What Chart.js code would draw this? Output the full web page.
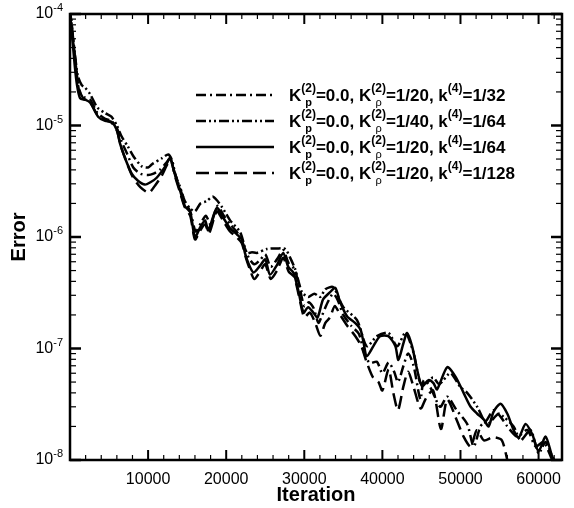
<!DOCTYPE html>
<html>
<head>
<meta charset="utf-8">
<script src="https://cdn.jsdelivr.net/npm/chart.js@4.4.0/dist/chart.umd.min.js"></script>
<style>
  html, body { margin: 0; padding: 0; background: #fff; }
</style>
</head>
<body>
<canvas id="myChart" width="574" height="508"></canvas>
<script>
"use strict";

// iteration / error pairs
const dashDotPts = [[0,1.2e-4],[400,6e-5],[800,3.2e-5],[1200,2.0e-5],[1800,1.8e-5],[2600,1.7e-5],[3500,1.3e-5],[4500,1.15e-5],[5300,1.1e-5],[6000,9.5e-6],[6600,7.2e-6],[7300,5.6e-6],[8100,4.2e-6],[9000,3.7e-6],[10000,3.6e-6],[10700,3.7e-6],[11500,4.0e-6],[12300,4.6e-6],[12800,5.0e-6],[13400,3.8e-6],[14100,2.7e-6],[14800,2.0e-6],[15400,1.7e-6],[16100,1.12e-6],[16800,1.35e-6],[17400,1.55e-6],[18000,1.3e-6],[18900,1.9e-6],[19700,1.55e-6],[20500,1.3e-6],[21400,1.1e-6],[22300,8.2e-7],[22900,6.5e-7],[23600,5.7e-7],[24400,6.3e-7],[25000,7.0e-7],[25700,5.4e-7],[26500,6.3e-7],[27300,7.6e-7],[28000,5.8e-7],[28700,5.2e-7],[29300,3.8e-7],[30000,2.4e-7],[30600,2.6e-7],[31200,2.3e-7],[31800,1.7e-7],[32300,2.0e-7],[33000,2.6e-7],[33700,3.1e-7],[34300,2.7e-7],[35000,2.0e-7],[36000,1.6e-7],[37000,1.35e-7],[37700,9e-8],[38400,7.4e-8],[39300,7.6e-8],[40000,6.0e-8],[40800,7.5e-8],[41500,6.2e-8],[42000,5.0e-8],[42700,7.0e-8],[43300,9.0e-8],[44000,7.0e-8],[44870,3.5e-8],[45300,5.2e-8],[46200,4.4e-8],[47400,3.0e-8],[48300,3.7e-8],[49500,2.8e-8],[50860,2.1e-8],[51700,1.32e-8],[52560,2.0e-8],[53400,2.3e-8],[54230,2.8e-8],[55130,2.45e-8],[56000,2.0e-8],[57270,1.62e-8],[58550,1.86e-8],[59620,1.32e-8],[60640,1.45e-8],[61750,1.0e-8],[62300,8.5e-9]];

const dashDotDotPts = [[0,1.1e-4],[300,7e-5],[600,4.5e-5],[1000,2.8e-5],[1500,2.3e-5],[1900,2.2e-5],[2600,1.9e-5],[3500,1.45e-5],[4500,1.29e-5],[5300,1.2e-5],[6000,1.0e-5],[6600,8e-6],[7400,6.5e-6],[8200,5.2e-6],[9200,4.3e-6],[10000,4.2e-6],[10500,4.5e-6],[11800,5.1e-6],[12600,5.5e-6],[13100,4.8e-6],[13500,3.6e-6],[14100,2.8e-6],[14700,2.1e-6],[15400,1.8e-6],[16000,1.7e-6],[16700,2.0e-6],[17500,2.1e-6],[18300,2.3e-6],[19450,1.86e-6],[20500,1.41e-6],[21800,1.1e-6],[22650,7.2e-7],[23300,7.3e-7],[23930,7.2e-7],[25200,7.8e-7],[26500,7.9e-7],[27560,7.8e-7],[28200,6.5e-7],[28850,5.1e-7],[29700,3.2e-7],[30500,2.9e-7],[31300,3.1e-7],[32050,2.9e-7],[32700,3.4e-7],[33700,3.55e-7],[35000,2.35e-7],[36750,1.8e-7],[38000,1.05e-7],[39300,1.29e-7],[40770,1.38e-7],[41900,1.05e-7],[42950,1.38e-7],[44000,9.1e-8],[44870,4.9e-8],[45800,5.0e-8],[46500,5.5e-8],[47300,4.8e-8],[48700,6.0e-8],[50000,4.5e-8],[50860,4.0e-8],[52140,3.0e-8],[53400,2.1e-8],[54870,2.6e-8],[55500,2.45e-8],[56800,2.0e-8],[57700,1.5e-8],[58970,1.86e-8],[60000,1.15e-8],[60900,1.45e-8],[61900,1.0e-8],[62400,8.5e-9]];

const solidPts = [[0,9e-5],[300,6e-5],[600,3.5e-5],[900,2.3e-5],[1300,1.75e-5],[2000,1.7e-5],[2600,1.6e-5],[3600,1.2e-5],[4500,1.1e-5],[5300,1.08e-5],[6000,9.1e-6],[6400,6.9e-6],[7000,5.2e-6],[7900,3.7e-6],[8700,3.2e-6],[9600,2.95e-6],[10300,3.1e-6],[11100,3.4e-6],[12200,4.3e-6],[12800,5.1e-6],[13400,3.7e-6],[14100,2.6e-6],[14700,1.9e-6],[15400,1.66e-6],[16000,1.0e-6],[16700,1.23e-6],[17300,1.41e-6],[17700,1.15e-6],[18800,1.82e-6],[19650,1.48e-6],[20500,1.2e-6],[21400,1.05e-6],[22000,9.5e-7],[22400,7.2e-7],[22800,5.9e-7],[23500,4.8e-7],[24400,5.6e-7],[25000,6.3e-7],[25600,4.6e-7],[26500,5.6e-7],[27300,7.2e-7],[27950,5.4e-7],[28600,4.8e-7],[29200,3.4e-7],[29900,2.1e-7],[30500,2.35e-7],[31150,2.1e-7],[31700,1.9e-7],[32400,2.75e-7],[33300,3.2e-7],[33970,3.5e-7],[34600,2.6e-7],[35470,1.95e-7],[36500,1.7e-7],[37200,1.48e-7],[37600,1.12e-7],[38000,8.5e-8],[38850,1.05e-7],[39700,1.29e-7],[40770,1.29e-7],[41660,1.05e-7],[42050,7.9e-8],[42700,1.12e-7],[43160,1.38e-7],[43800,1.05e-7],[44440,6.5e-8],[45080,4.6e-8],[45900,5.2e-8],[46540,4.9e-8],[47000,4.3e-8],[48300,6.8e-8],[49360,5.6e-8],[50400,4.0e-8],[51300,3.0e-8],[52140,2.6e-8],[53000,2.3e-8],[53600,2.0e-8],[54230,2.7e-8],[55130,3.2e-8],[56000,2.6e-8],[56800,1.86e-8],[57440,1.58e-8],[58330,2.1e-8],[59190,1.7e-8],[60000,1.2e-8],[60900,1.62e-8],[61750,1.07e-8],[62200,9.5e-9],[62600,8e-9]];

const dashedPts = [[0,1.0e-4],[350,6e-5],[700,3.8e-5],[1100,2.2e-5],[1700,1.75e-5],[2500,1.65e-5],[3500,1.25e-5],[4500,1.12e-5],[5300,1.06e-5],[6000,9e-6],[6500,6.6e-6],[7100,5.0e-6],[8000,3.5e-6],[9000,2.8e-6],[10100,2.5e-6],[10900,2.9e-6],[11700,3.5e-6],[12400,4.4e-6],[12900,5.0e-6],[13400,3.6e-6],[14100,2.5e-6],[14700,1.85e-6],[15400,1.55e-6],[16000,9.5e-7],[16600,1.12e-6],[17300,1.3e-6],[17800,1.08e-6],[18800,1.7e-6],[19600,1.4e-6],[20500,1.12e-6],[21300,1.0e-6],[22000,8.8e-7],[22500,6.6e-7],[23000,5.2e-7],[23600,4.2e-7],[24400,5.0e-7],[25000,5.7e-7],[25700,4.2e-7],[26500,5.0e-7],[27300,6.5e-7],[28000,4.9e-7],[28700,4.4e-7],[29300,3.0e-7],[30000,1.9e-7],[30700,2.1e-7],[31400,1.7e-7],[32050,1.3e-7],[32700,1.7e-7],[33300,1.9e-7],[33900,2.4e-7],[34600,2.0e-7],[35500,1.6e-7],[36500,1.3e-7],[37300,1.05e-7],[38000,7.5e-8],[38800,5.5e-8],[39500,5.0e-8],[40000,4.2e-8],[40800,6.5e-8],[41400,4.0e-8],[42000,2.8e-8],[42700,4.6e-8],[43300,6.2e-8],[44000,4.5e-8],[44900,2.9e-8],[45600,3.6e-8],[46500,4.2e-8],[47500,1.9e-8],[48300,3.5e-8],[49500,2.3e-8],[50400,1.62e-8],[51300,1.32e-8],[52100,1.85e-8],[53000,1.5e-8],[54200,1.6e-8],[55300,1.5e-8],[56000,1.0e-8],[56300,8.5e-9]];

// legend coefficients, one per series
const kRho = ['1/20', '1/40', '1/20', '1/20'];
const k4 = ['1/32', '1/64', '1/64', '1/128'];
const kP = '0.0';

const xTicks = [10000, 20000, 30000, 40000, 50000, 60000];
const yExps = [-8, -7, -6, -5, -4];

const FONT = '"Liberation Sans", Arial, sans-serif';
const dashes = [[10, 4, 2, 4], [10, 3, 2, 3, 2, 3], [], [13, 6]];
const series = [dashDotPts, dashDotDotPts, solidPts, dashedPts];

function toXY(pts) {
  return pts.map(p => ({ x: p[0], y: p[1] }));
}

const datasets = series.map((pts, i) => ({
  label: 'K(2)p=' + kP + ', K(2)rho=' + kRho[i] + ', k(4)=' + k4[i],
  data: toXY(pts),
  borderColor: '#000',
  borderWidth: 2.5,
  borderDash: dashes[i],
  pointRadius: 0,
  tension: 0.25,
  fill: false
}));

function line(ctx, x1, y1, x2, y2) {
  ctx.beginPath();
  ctx.moveTo(x1, y1);
  ctx.lineTo(x2, y2);
  ctx.stroke();
}

function drawRich(ctx, x, y, parts) {
  let cx = x;
  let supX = 0, supW = 0;
  parts.forEach(p => {
    const t = p[0], kind = p[1];
    if (kind === 'n') {
      ctx.font = 'bold 17px ' + FONT;
      ctx.fillText(t, cx, y);
      cx += ctx.measureText(t).width;
    } else if (kind === 'sup') {
      ctx.font = 'bold 12px ' + FONT;
      ctx.fillText(t, cx, y - 9);
      supX = cx;
      supW = ctx.measureText(t).width;
      cx += supW;
    } else {
      ctx.font = (kind === 'subb' ? 'bold ' : '') + '11px ' + FONT;
      const w = ctx.measureText(t).width;
      ctx.fillText(t, supX + (supW - w) / 2, y + 5);
    }
  });
  return cx;
}

const framePlugin = {
  id: 'frame',
  afterDraw(chart) {
    const ctx = chart.ctx;
    const a = chart.chartArea;
    const xs = chart.scales.x;
    const ys = chart.scales.y;
    ctx.save();
    ctx.strokeStyle = '#000';
    ctx.fillStyle = '#000';

    // x ticks, inward on top and bottom
    for (let v = 0; v <= xs.max; v += 2000) {
      const px = xs.getPixelForValue(v);
      const major = v % 10000 === 0;
      ctx.lineWidth = major ? 2 : 1.2;
      const len = major ? 10 : 5;
      line(ctx, px, a.bottom, px, a.bottom - len);
      line(ctx, px, a.top, px, a.top + len);
    }
    // y ticks, inward on left and right
    for (let e = -8; e <= -4; e++) {
      for (let m = 1; m <= 9; m++) {
        const v = m * Math.pow(10, e);
        if (v > ys.max * 1.0001) break;
        const py = ys.getPixelForValue(v);
        const major = m === 1;
        ctx.lineWidth = major ? 2.5 : 1.2;
        const len = major ? 11 : 6;
        line(ctx, a.left, py, a.left + len, py);
        line(ctx, a.right, py, a.right - len, py);
      }
    }
    // frame
    ctx.lineWidth = 2.5;
    ctx.strokeRect(a.left, a.top, a.right - a.left, a.bottom - a.top);

    // y tick labels 10^n
    ctx.textBaseline = 'middle';
    ctx.textAlign = 'left';
    yExps.forEach(e => {
      const py = ys.getPixelForValue(Math.pow(10, e));
      const ex = String(e);
      ctx.font = '16px ' + FONT;
      const bw = ctx.measureText('10').width;
      ctx.font = '11px ' + FONT;
      const ew = ctx.measureText(ex).width;
      const x0 = a.left - 7 - bw - ew;
      ctx.font = '16px ' + FONT;
      ctx.fillText('10', x0, py);
      ctx.font = '11px ' + FONT;
      ctx.fillText(ex, x0 + bw, py - 6);
    });

    // axis titles
    ctx.font = 'bold 20px ' + FONT;
    ctx.textAlign = 'center';
    ctx.textBaseline = 'alphabetic';
    ctx.fillText('Iteration', (a.left + a.right) / 2, 501);
    ctx.save();
    ctx.translate(25, (a.top + a.bottom) / 2);
    ctx.rotate(-Math.PI / 2);
    ctx.fillText('Error', 0, 0);
    ctx.restore();

    // legend
    ctx.textAlign = 'left';
    ctx.textBaseline = 'alphabetic';
    for (let i = 0; i < 4; i++) {
      const ry = 95 + i * 26;
      ctx.lineWidth = 2.5;
      ctx.setLineDash(dashes[i]);
      line(ctx, 196, ry, 274, ry);
      ctx.setLineDash([]);
      drawRich(ctx, 289, ry + 6, [
        ['K', 'n'], ['(2)', 'sup'], ['p', 'subb'],
        ['=' + kP + ', K', 'n'], ['(2)', 'sup'], ['\u03c1', 'sub'],
        ['=' + kRho[i] + ', k', 'n'], ['(4)', 'sup'],
        ['=' + k4[i], 'n']
      ]);
    }
    ctx.restore();
  }
};

const config = {
  type: 'line',
  data: { datasets: datasets },
  options: {
    responsive: false,
    animation: false,
    devicePixelRatio: 1,
    layout: { padding: { top: 14, right: 12, left: 0, bottom: 0 } },
    plugins: { legend: { display: false }, tooltip: { enabled: false } },
    scales: {
      x: {
        type: 'linear',
        min: 0,
        max: 63000,
        grid: { display: false },
        border: { display: false },
        afterBuildTicks: s => { s.ticks = xTicks.map(v => ({ value: v })); },
        ticks: {
          color: '#000',
          font: { family: FONT, size: 16 },
          padding: 2,
          maxRotation: 0,
          autoSkip: false,
          callback: v => String(v)
        },
        afterFit: s => { s.height = 48; }
      },
      y: {
        type: 'logarithmic',
        min: 1e-8,
        max: 1e-4,
        grid: { display: false },
        border: { display: false },
        ticks: { display: false },
        afterFit: s => { s.width = 70; }
      }
    }
  },
  plugins: [framePlugin]
};

const myChart = new Chart(document.getElementById('myChart'), config);
</script>
</body>
</html>
